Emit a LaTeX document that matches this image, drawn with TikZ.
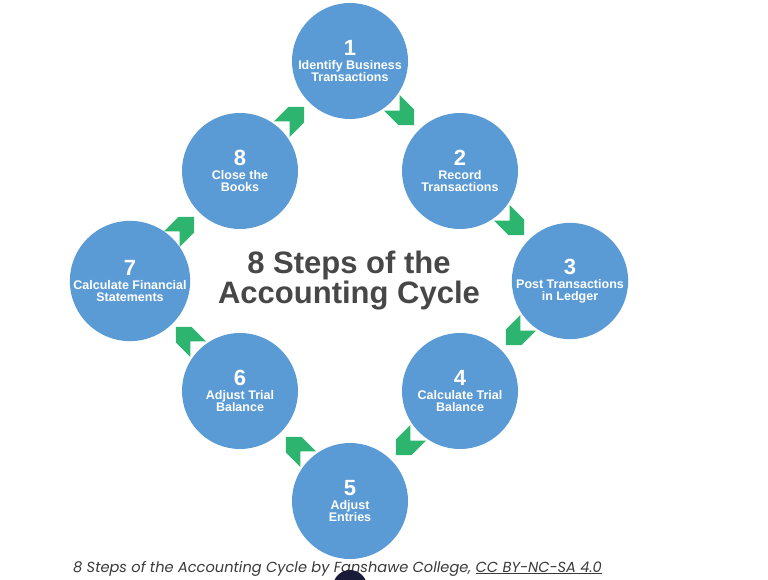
\documentclass[tikz,border=0pt]{standalone}
\usepackage{fontspec}
\setmainfont{Liberation Sans}
\newfontfamily\capfont{Poppins}
\usetikzlibrary{calc}
\definecolor{acblue}{HTML}{5B9BD5}
\definecolor{acgreen}{HTML}{2DB46E}
\definecolor{acink}{HTML}{474747}
\definecolor{accap}{HTML}{3A3A3A}
\definecolor{acdot}{HTML}{1A1B38}
\tikzset{
  stepc/.style={circle,fill=acblue,minimum size=116pt,inner sep=0pt,text=white,
                align=center,font=\fontsize{12.5}{12}\selectfont\bfseries},
  ttl/.style={align=center,inner sep=0pt,text=acink,
              font=\fontsize{31}{28}\selectfont\bfseries},
  capt/.style={inner sep=0pt,text=accap,font=\capfont\itshape\fontsize{14.6}{16}\selectfont},
  chevron/.pic={\fill[acgreen] (13,0) -- (2,11) -- (-18.5,11) -- (-7.5,0)
                -- (-18.5,-11) -- (2,-11) -- cycle;},
}
\newcommand{\stepno}[1]{{\fontsize{22}{22}\selectfont #1}\\[2pt]}

\begin{document}
\begin{tikzpicture}[x=1pt,y=1pt]
  \useasboundingbox[fill=white] (0,0) rectangle (768,579);

  % ================= the eight steps =================
  \node[stepc] (s1) at (350,518) {\stepno{1}Identify Business\\Transactions};
  \node[stepc] (s2) at (460,408) {\stepno{2}Record\\Transactions};
  \node[stepc] (s3) at (570,298) {\stepno{3}Post Transactions\\in Ledger};
  \node[stepc] (s4) at (460,188) {\stepno{4}Calculate Trial\\Balance};
  \node[stepc] (s5) at (350,78)  {\stepno{5}Adjust\\Entries};
  \node[stepc] (s6) at (240,188) {\stepno{6}Adjust Trial\\Balance};
  \node[stepc] (s7) at (130,298) {\stepno{7}Calculate Financial\\Statements};
  \node[stepc] (s8) at (240,408) {\stepno{8}Close the\\Books};

  % chevrons between consecutive steps
  \foreach \a/\b/\ang in {1/2/-45,2/3/-45,3/4/-135,4/5/-135,5/6/135,6/7/135,7/8/45,8/1/45}
    \pic[rotate=\ang] at ($(s\a)!0.5!(s\b)$) {chevron};

  % title
  \node[ttl] (title) at (349,298) {8 Steps of the\\Accounting Cycle};

  % caption
  \node[capt,anchor=base west] (cap) at (73,7)
    {8 Steps of the Accounting Cycle by Fanshawe College, \underline{CC BY-NC-SA 4.0}};
  \fill[acdot] (350,-8) circle (17);
\end{tikzpicture}
\end{document}
